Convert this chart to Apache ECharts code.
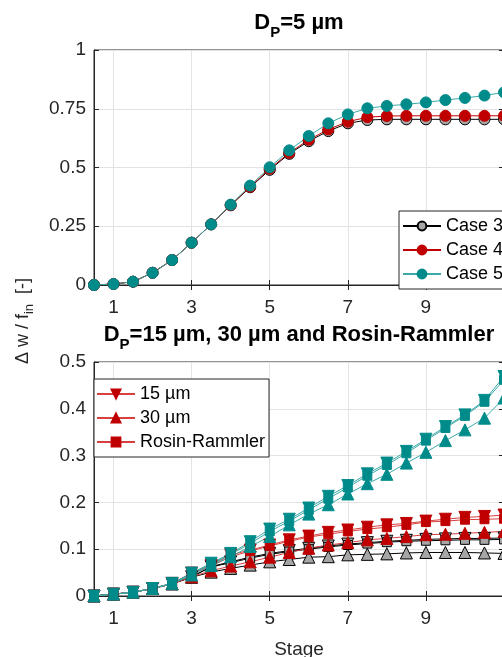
<!DOCTYPE html>
<html lang="en">
<head>
    <meta charset="UTF-8">
    <script src="https://cdn.jsdelivr.net/npm/echarts@6.0.0/dist/echarts.min.js"></script>
    <title>Stage</title>
    <style>
        html, body { margin: 0; padding: 0; background: #fff; }
        #chart { width: 502px; height: 657px; }
    </style>
</head>
<body>
<div id="chart"></div>
<script type="text/javascript">
    // stages (x), half-stage steps
    var stages = ['0.5', '1', '1.5', '2', '2.5', '3', '3.5', '4', '4.5', '5', '5.5',
        '6', '6.5', '7', '7.5', '8', '8.5', '9', '9.5', '10', '10.5', '11'];
    var xTickLabels = ['1', '3', '5', '7', '9'];

    // top panel, Dp = 5 um
    var case3 = [0, 0.004, 0.014, 0.052, 0.106, 0.180, 0.258, 0.339, 0.416, 0.490, 0.558,
        0.612, 0.655, 0.688, 0.702, 0.705, 0.705, 0.705, 0.705, 0.705, 0.705, 0.705];
    var case4 = [0, 0.004, 0.014, 0.052, 0.106, 0.180, 0.258, 0.340, 0.418, 0.495, 0.562,
        0.618, 0.662, 0.695, 0.714, 0.719, 0.720, 0.720, 0.720, 0.720, 0.720, 0.720];
    var case5 = [0, 0.004, 0.014, 0.052, 0.106, 0.180, 0.258, 0.342, 0.423, 0.501, 0.573,
        0.634, 0.688, 0.726, 0.752, 0.762, 0.769, 0.777, 0.787, 0.796, 0.806, 0.820];

    // bottom panel, 15 um / 30 um / Rosin-Rammler
    var gray15 = [0, 0.004, 0.008, 0.016, 0.026, 0.041, 0.063, 0.073, 0.083, 0.091, 0.097,
        0.102, 0.107, 0.111, 0.114, 0.117, 0.119, 0.121, 0.122, 0.123, 0.123, 0.124];
    var gray30 = [0, 0.004, 0.008, 0.016, 0.026, 0.040, 0.051, 0.059, 0.066, 0.073, 0.078,
        0.083, 0.084, 0.088, 0.089, 0.090, 0.092, 0.093, 0.093, 0.093, 0.092, 0.091];
    var grayRR = [0, 0.004, 0.008, 0.016, 0.026, 0.041, 0.062, 0.071, 0.081, 0.089, 0.095,
        0.100, 0.105, 0.109, 0.112, 0.115, 0.117, 0.118, 0.119, 0.120, 0.120, 0.121];
    var red15 = [0, 0.004, 0.008, 0.016, 0.027, 0.049, 0.066, 0.088, 0.098, 0.109, 0.120,
        0.128, 0.136, 0.141, 0.147, 0.152, 0.155, 0.160, 0.164, 0.168, 0.170, 0.173];
    var red30 = [0, 0.004, 0.008, 0.016, 0.026, 0.041, 0.054, 0.064, 0.073, 0.083, 0.093,
        0.102, 0.109, 0.114, 0.120, 0.123, 0.127, 0.131, 0.132, 0.134, 0.136, 0.138];
    var redRR = [0, 0.004, 0.008, 0.016, 0.027, 0.048, 0.064, 0.084, 0.096, 0.107, 0.117,
        0.126, 0.132, 0.138, 0.143, 0.147, 0.152, 0.158, 0.160, 0.163, 0.164, 0.165];
    var teal15 = [0, 0.004, 0.008, 0.016, 0.027, 0.049, 0.070, 0.091, 0.116, 0.143, 0.164,
        0.188, 0.213, 0.236, 0.261, 0.284, 0.309, 0.335, 0.362, 0.387, 0.418, 0.469];
    var teal30 = [0, 0.004, 0.008, 0.016, 0.026, 0.045, 0.065, 0.084, 0.106, 0.127, 0.152,
        0.175, 0.195, 0.218, 0.240, 0.260, 0.284, 0.307, 0.332, 0.355, 0.380, 0.423];
    var tealRR = [0, 0.004, 0.008, 0.016, 0.027, 0.048, 0.068, 0.089, 0.112, 0.138, 0.160,
        0.184, 0.208, 0.232, 0.257, 0.280, 0.305, 0.332, 0.359, 0.385, 0.415, 0.462];

    var FONT = 'Liberation Sans, Arial, sans-serif';
    var TXT = '#262626';
    var GRAY = '#a6a6a6', RED = '#c00000', TEAL = '#008b8b';

    var chartDom = document.getElementById('chart');
    var myChart = echarts.init(chartDom, null, {renderer: 'canvas'});

    // text with a subscript, laid out piece by piece and centred on 0
    var measureCtx = document.createElement('canvas').getContext('2d');
    function subText(pieces, color) {
        var widths = pieces.map(function (p) {
            measureCtx.font = (p.bold ? 'bold ' : '') + p.size + 'px ' + FONT;
            return measureCtx.measureText(p.text).width;
        });
        var total = widths.reduce(function (a, b) { return a + b; }, 0);
        var x = -total / 2;
        return pieces.map(function (p, i) {
            var el = {
                type: 'text', x: x, y: p.dy || 0,
                style: {
                    text: p.text, fontSize: p.size, fontWeight: p.bold ? 'bold' : 'normal',
                    fontFamily: FONT, fill: color, align: 'left', verticalAlign: 'middle'
                }
            };
            x += widths[i];
            return el;
        });
    }

    function showTick(idx) {
        return xTickLabels.indexOf(stages[idx]) >= 0 || stages[idx] === '11';
    }
    function showLabel(idx) {
        return xTickLabels.indexOf(stages[idx]) >= 0;
    }

    function xAxisFor(gridIndex, withName) {
        return [{
            type: 'category', gridIndex: gridIndex, data: stages, boundaryGap: false,
            axisLine: {show: true, lineStyle: {color: TXT, width: 1}},
            axisTick: {show: true, inside: true, length: 5, interval: showTick, lineStyle: {color: TXT}},
            axisLabel: {
                interval: showLabel, margin: 13, color: TXT, fontSize: 19, fontFamily: FONT,
                hideOverlap: false
            },
            splitLine: {show: true, interval: showTick, lineStyle: {color: '#e3e3e3', width: 1}},
            name: withName ? 'Stage' : '', nameLocation: 'middle', nameGap: 44,
            nameTextStyle: {color: TXT, fontSize: 19, fontFamily: FONT}
        }, {
            type: 'category', gridIndex: gridIndex, data: stages, boundaryGap: false, position: 'top',
            axisLine: {show: false},
            axisTick: {show: true, inside: true, length: 5, interval: showTick, lineStyle: {color: TXT}},
            axisLabel: {show: false}, splitLine: {show: false}
        }];
    }

    function yAxisFor(gridIndex, max, interval) {
        return [{
            type: 'value', gridIndex: gridIndex, min: 0, max: max, interval: interval,
            axisLine: {show: true, lineStyle: {color: TXT, width: 1}},
            axisTick: {show: true, inside: true, length: 5, lineStyle: {color: TXT}},
            axisLabel: {
                color: TXT, fontSize: 19, fontFamily: FONT, margin: 8,
                formatter: function (v) { return String(+v.toFixed(2)); }
            },
            splitLine: {show: true, lineStyle: {color: '#e3e3e3', width: 1}}
        }, {
            type: 'value', gridIndex: gridIndex, min: 0, max: max, interval: interval, position: 'right',
            axisLine: {show: false},
            axisTick: {show: true, inside: true, length: 5, lineStyle: {color: TXT}},
            axisLabel: {show: false}, splitLine: {show: false}
        }];
    }

    function mkSeries(name, data, grid, color, symbol, rotate, edge, lineColor) {
        return {
            name: name, type: 'line', data: data,
            xAxisIndex: grid * 2, yAxisIndex: grid * 2,
            symbol: symbol, symbolSize: symbol === 'circle' ? 11 : (symbol === 'rect' ? 9 : 12),
            symbolRotate: rotate, showAllSymbol: true,
            itemStyle: {color: color, borderColor: edge, borderWidth: 1},
            lineStyle: {color: lineColor, width: 1},
            emphasis: {disabled: true}, animation: false
        };
    }

    var option = {
        animation: false,
        textStyle: {fontFamily: FONT},
        grid: [
            {left: 94, top: 50, right: -2, height: 235, outerBoundsMode: 'none', containLabel: false,
                show: true, borderColor: TXT, borderWidth: 1, backgroundColor: '#fff'},
            {left: 94, top: 362, right: -2, height: 234, outerBoundsMode: 'none', containLabel: false,
                show: true, borderColor: TXT, borderWidth: 1, backgroundColor: '#fff'}
        ],
        xAxis: xAxisFor(0, false).concat(xAxisFor(1, true)),
        yAxis: yAxisFor(0, 1, 0.25).concat(yAxisFor(1, 0.5, 0.1)),
        legend: [{
            data: ['Case 3', 'Case 4', 'Case 5'],
            orient: 'vertical', left: 399, top: 211,
            itemWidth: 38, itemHeight: 11, itemGap: 6,
            padding: [6, 8, 6, 3],
            backgroundColor: '#fff', borderColor: TXT, borderWidth: 1, borderRadius: 0,
            textStyle: {color: '#000', fontSize: 18, fontFamily: FONT}
        }, {
            data: ['15 µm', '30 µm', 'Rosin-Rammler'],
            orient: 'vertical', left: 94, top: 379,
            itemWidth: 38, itemHeight: 11, itemGap: 6,
            padding: [6, 4, 6, 2],
            backgroundColor: '#fff', borderColor: TXT, borderWidth: 1, borderRadius: 0,
            textStyle: {color: '#000', fontSize: 18, fontFamily: FONT}
        }],
        graphic: [{
            type: 'group', x: 299, y: 23,
            children: subText([
                {text: 'D', size: 22, bold: true},
                {text: 'P', size: 15, bold: true, dy: 10},
                {text: '=5 µm', size: 22, bold: true}
            ], '#000')
        }, {
            type: 'group', x: 299, y: 335,
            children: subText([
                {text: 'D', size: 22, bold: true},
                {text: 'P', size: 15, bold: true, dy: 10},
                {text: '=15 µm, 30 µm and Rosin-Rammler', size: 22, bold: true}
            ], '#000')
        }, {
            type: 'group', x: 23, y: 321, rotation: Math.PI / 2,
            children: subText([
                {text: 'Δ w / f', size: 18},
                {text: 'in', size: 13, dy: 6},
                {text: '  [-]', size: 18}
            ], TXT)
        }],
        series: [
            mkSeries('Case 3', case3, 0, GRAY, 'circle', 0, '#000', '#000'),
            mkSeries('Case 4', case4, 0, RED, 'circle', 0, RED, RED),
            mkSeries('Case 5', case5, 0, TEAL, 'circle', 0, TEAL, '#3aa9a7'),

            mkSeries('15 µm c3', gray15, 1, GRAY, 'triangle', 180, '#000', '#000'),
            mkSeries('30 µm c3', gray30, 1, GRAY, 'triangle', 0, '#000', '#000'),
            mkSeries('RR c3', grayRR, 1, GRAY, 'rect', 0, '#000', '#000'),
            mkSeries('15 µm', red15, 1, RED, 'triangle', 180, RED, '#d84040'),
            mkSeries('30 µm', red30, 1, RED, 'triangle', 0, RED, '#d84040'),
            mkSeries('Rosin-Rammler', redRR, 1, RED, 'rect', 0, RED, '#d84040'),
            mkSeries('15 µm c5', teal15, 1, TEAL, 'triangle', 180, TEAL, '#3aa9a7'),
            mkSeries('30 µm c5', teal30, 1, TEAL, 'triangle', 0, TEAL, '#3aa9a7'),
            mkSeries('RR c5', tealRR, 1, TEAL, 'rect', 0, TEAL, '#3aa9a7')
        ]
    };

    myChart.setOption(option);
</script>
</body>
</html>
